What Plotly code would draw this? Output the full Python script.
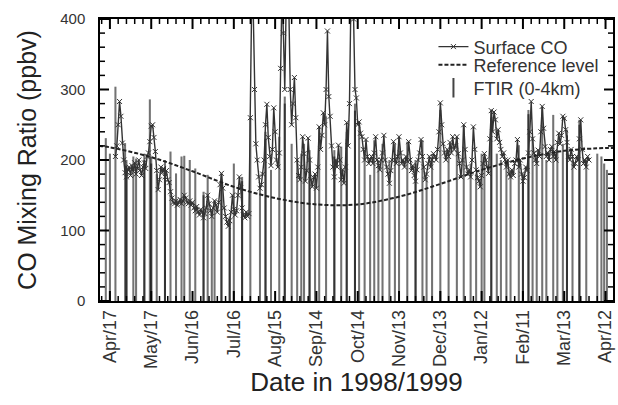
import pandas as pd
import plotly.graph_objects as go

# Daily surface CO (ppbv), starting 1998-04-21
co_start = "1998-04-21"
co_values = [
    205, 220, 250, 283, 262, 224, 200, 182, 176, 186,
    190, 178, 192, 184, 196, 180, 188, 200, 186, 178,
    190, 196, 188, 205, 210, 226, 248, 250, 232, 212,
    185, 158, 172, 190, 182, 188, 176, 185, 172, 168,
    155, 146, 140, 138, 142, 136, 140, 144, 138, 142,
    150, 146, 140, 138, 142, 136, 140, 132, 128, 134,
    126, 122, 130, 126, 118, 124, 132, 150, 138, 128,
    120, 132, 142, 136, 126, 140, 165, 181, 160, 132,
    120, 112, 106, 114, 126, 150, 130, 122, 128, 150,
    176, 160, 132, 122, 118, 126, 120, 124, 260, 430,
    420, 300, 223, 200, 176, 160, 165, 180, 200, 250,
    279, 232, 205, 192, 215, 274, 240, 200, 190, 210,
    330, 440, 380, 300, 420, 450, 410, 300, 250, 280,
    317, 260, 200, 178, 172, 190, 233, 209, 170, 185,
    231, 200, 172, 162, 175, 180, 160, 190, 247, 215,
    235, 267, 250, 300, 383, 290, 262, 220, 190, 176,
    200, 190, 221, 200, 172, 186, 167, 190, 253, 220,
    280, 420, 450, 400, 300, 288, 250, 254, 238, 233,
    215, 200, 229, 205, 195, 200, 205, 195, 210, 233,
    200, 192, 186, 200, 210, 235, 200, 190, 180, 167,
    185, 200, 226, 200, 195, 205, 233, 210, 195, 200,
    190, 205, 198, 226, 200, 185, 192, 178, 170, 186,
    200, 210, 229, 205, 190, 172, 180, 195, 205, 190,
    200, 209, 205, 200, 215, 240, 281, 250, 223, 210,
    200, 215, 205, 225, 210, 233, 215, 220, 233, 209,
    195, 176, 200, 250, 215, 190, 180, 186, 176, 200,
    247, 215, 186, 175, 170, 162, 178, 195, 209, 200,
    190, 181, 230, 270, 240, 268, 257, 230, 243, 225,
    215, 205, 210, 200, 190, 200, 180, 176, 186, 178,
    195, 200, 229, 190, 200, 180, 170, 175, 190, 185,
    210, 240, 283, 230, 210, 200, 195, 214, 205, 240,
    276, 245, 219, 205, 210, 200, 215, 219, 205, 212,
    200, 225, 238, 223, 235, 262, 259, 243, 225, 205,
    200, 215, 205, 190, 195, 205, 200, 230, 257, 215,
    195, 200, 190, 205, 200,
]

# Reference (background) level
ref_dates = [
    "1998-04-09", "1998-04-17", "1998-05-17", "1998-06-16", "1998-07-16",
    "1998-08-15", "1998-09-14", "1998-10-14", "1998-11-13", "1998-12-13",
    "1999-01-12", "1999-02-11", "1999-03-13", "1999-04-12", "1999-04-18",
]
ref_values = [220, 218, 204, 184, 162, 146, 137, 137, 148, 166, 186, 202, 213, 217, 217]

# FTIR 0-4 km partial-column mean mixing ratios (several retrievals on some days)
ftir_dates = [
    "1998-04-14", "1998-04-17", "1998-04-21", "1998-04-28", "1998-04-29", "1998-04-29",
    "1998-05-04", "1998-05-06", "1998-05-12", "1998-05-12", "1998-05-16", "1998-05-17",
    "1998-05-17", "1998-05-21", "1998-05-27", "1998-05-27", "1998-05-31", "1998-06-04",
    "1998-06-08", "1998-06-10", "1998-06-14", "1998-06-18", "1998-06-24", "1998-06-24",
    "1998-06-27", "1998-06-30", "1998-07-02", "1998-07-07", "1998-07-07", "1998-07-13",
    "1998-07-13", "1998-07-16", "1998-07-22", "1998-07-22", "1998-07-28", "1998-08-04",
    "1998-08-08", "1998-08-08", "1998-08-12", "1998-08-18", "1998-08-22", "1998-08-22",
    "1998-08-27", "1998-08-31", "1998-09-03", "1998-09-05", "1998-09-09", "1998-09-09",
    "1998-09-13", "1998-09-16", "1998-09-21", "1998-09-27", "1998-09-27", "1998-10-02",
    "1998-10-06", "1998-10-06", "1998-10-12", "1998-10-12", "1998-10-15", "1998-10-19",
    "1998-10-23", "1998-10-26", "1998-10-29", "1998-11-01", "1998-11-06", "1998-11-10",
    "1998-11-13", "1998-11-19", "1998-11-25", "1998-11-25", "1998-11-30", "1998-12-03",
    "1998-12-07", "1998-12-13", "1998-12-19", "1998-12-25", "1998-12-30", "1999-01-04",
    "1999-01-08", "1999-01-12", "1999-01-14", "1999-01-19", "1999-01-19", "1999-01-23",
    "1999-01-26", "1999-01-30", "1999-02-02", "1999-02-08", "1999-02-11", "1999-02-11",
    "1999-02-15", "1999-02-15", "1999-02-18", "1999-02-21", "1999-02-25", "1999-02-28",
    "1999-03-05", "1999-03-08", "1999-03-12", "1999-03-15", "1999-03-15", "1999-03-19",
    "1999-03-24", "1999-03-24", "1999-03-29", "1999-04-06", "1999-04-09", "1999-04-11",
    "1999-04-13",
]
ftir_values = [
    231, 209, 304, 224, 200, 192,
    205, 202, 209, 200, 286, 205,
    195, 180, 200, 190, 212, 181,
    205, 206, 200, 188, 155, 150,
    179, 129, 143, 181, 172, 120,
    115, 195, 176, 170, 260, 163,
    240, 230, 186, 233, 290, 280,
    223, 200, 209, 223, 214, 205,
    176, 248, 262, 214, 205, 219,
    240, 230, 280, 270, 250, 214,
    179, 228, 200, 223, 200, 223,
    233, 226, 200, 195, 228, 176,
    205, 271, 209, 233, 250, 195,
    181, 209, 205, 271, 260, 209,
    200, 200, 186, 221, 181, 176,
    271, 265, 233, 205, 276, 200,
    264, 214, 223, 243, 235, 200,
    257, 250, 200, 209, 205, 195,
    186,
]

# Axis ticks every 30 days, minor ticks every 6 days
tick_dates = [
    "1998-04-17", "1998-05-17", "1998-06-16", "1998-07-16", "1998-08-15",
    "1998-09-14", "1998-10-14", "1998-11-13", "1998-12-13", "1999-01-12",
    "1999-02-11", "1999-03-13", "1999-04-12",
]
tick_labels = [
    "Apr/17", "May/17", "Jun/16", "Jul/16", "Aug/15", "Sep/14", "Oct/14",
    "Nov/13", "Dec/13", "Jan/12", "Feb/11", "Mar/13", "Apr/12",
]
y_ticks = [0, 100, 200, 300, 400]

DAY_MS = 86400000
FONT = "Arial, Liberation Sans, sans-serif"
X_RANGE = ["1998-04-09 19:00", "1999-04-17 10:00"]
Y_RANGE = [0, 400]

co_dates = pd.date_range(co_start, periods=len(co_values), freq="D")

fig = go.Figure()

fig.add_trace(go.Bar(
    x=ftir_dates, y=ftir_values, width=1.5 * DAY_MS,
    marker=dict(color="rgba(0,0,0,0.55)", line=dict(width=0)),
    showlegend=False, hoverinfo="x+y",
))

fig.add_trace(go.Scatter(
    x=co_dates, y=co_values, mode="lines+markers", name="Surface CO",
    line=dict(color="#333333", width=1.4),
    marker=dict(symbol="x-thin", size=5, color="#333333", line=dict(color="#333333", width=1)),
    legend="legend",
))

fig.add_trace(go.Scatter(
    x=ref_dates, y=ref_values, mode="lines", name="Reference level",
    line=dict(color="#222222", width=2, dash="4px,2px", shape="spline"),
    legend="legend2",
))

fig.add_trace(go.Scatter(
    x=[None], y=[None], mode="markers", name="FTIR (0-4km)",
    marker=dict(symbol="line-ns-open", size=14, color="#444444",
                line=dict(color="#444444", width=2)),
    legend="legend3",
))

# Inward tick marks on all four sides of the frame
frame_ticks = []
major_x = set(pd.to_datetime(tick_dates))
minor_x = pd.date_range("1998-04-11", "1999-04-12", freq="6D")
for d in minor_x:
    is_major = d in major_x
    length, width = (10, 2) if is_major else (5, 1.5)
    for anchor, sign in ((0, 1), (1, -1)):
        frame_ticks.append(dict(
            type="line", xref="x", yref="paper", ysizemode="pixel", yanchor=anchor,
            x0=d, x1=d, y0=0, y1=sign * length,
            line=dict(color="black", width=width), layer="above",
        ))
for v in range(Y_RANGE[0], Y_RANGE[1] + 1, 20):
    is_major = v in y_ticks
    length, width = (9, 2) if is_major else (5, 1.5)
    for anchor, sign in ((0, 1), (1, -1)):
        frame_ticks.append(dict(
            type="line", xref="paper", yref="y", xsizemode="pixel", xanchor=anchor,
            x0=0, x1=sign * length, y0=v, y1=v,
            line=dict(color="black", width=width), layer="above",
        ))

legend_common = dict(
    x=0.65, xanchor="left", yanchor="middle", bgcolor="rgba(0,0,0,0)",
    font=dict(size=18, family=FONT, color="#333333"), itemwidth=30,
)

fig.update_layout(
    width=618, height=405,
    margin=dict(l=100, r=3, t=19, b=104),
    paper_bgcolor="white", plot_bgcolor="white",
    barmode="overlay",
    font=dict(family=FONT, color="#222222"),
    legend=dict(y=0.901, **legend_common),
    legend2=dict(y=0.837, **legend_common),
    legend3=dict(y=0.755, **legend_common),
    shapes=frame_ticks,
)

fig.update_xaxes(
    type="date", range=X_RANGE,
    tickvals=tick_dates, ticktext=tick_labels, tickangle=-90,
    tickfont=dict(size=18, family=FONT, color="#333333"),
    ticks="",
    showline=True, linecolor="black", linewidth=1.5, mirror=True,
    showgrid=False, zeroline=False,
    title=dict(text="Date in 1998/1999", font=dict(size=26, family=FONT, color="#222222"), standoff=4),
)

fig.update_yaxes(
    range=Y_RANGE, tickvals=y_ticks,
    tickfont=dict(size=15, family=FONT, color="#333333"),
    ticks="",
    showline=True, linecolor="black", linewidth=1.5, mirror=True,
    showgrid=False, zeroline=False, ticklabelstandoff=10,
    title=dict(text="CO Mixing Ratio (ppbv)", font=dict(size=25, family=FONT, color="#222222"), standoff=16),
)

fig.write_html("out.html")
